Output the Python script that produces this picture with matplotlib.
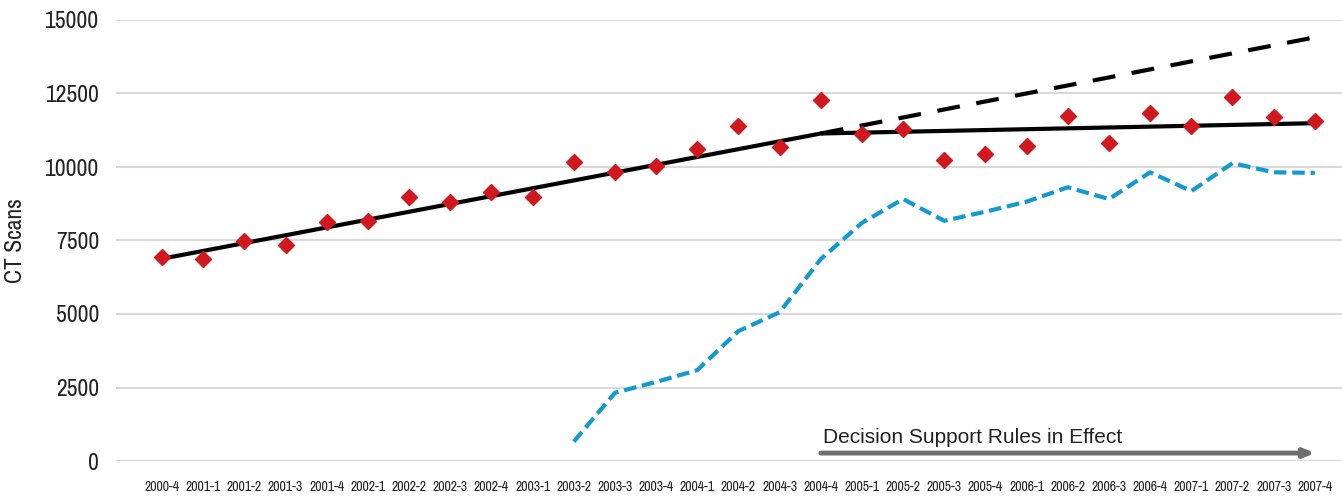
import matplotlib
matplotlib.use("Agg")
import matplotlib.pyplot as plt
from matplotlib import font_manager as fm

quarters = ["2000-4", "2001-1", "2001-2", "2001-3", "2001-4", "2002-1", "2002-2",
            "2002-3", "2002-4", "2003-1", "2003-2", "2003-3", "2003-4", "2004-1",
            "2004-2", "2004-3", "2004-4", "2005-1", "2005-2", "2005-3", "2005-4",
            "2006-1", "2006-2", "2006-3", "2006-4", "2007-1", "2007-2", "2007-3",
            "2007-4"]

# observed CT scans per quarter (red diamonds)
ct_scans = [6950, 6870, 7490, 7360, 8140, 8170, 8990, 8800, 9150, 8970, 10160,
            9830, 10020, 10600, 11400, 10690, 12280, 11120, 11290, 10240, 10430,
            10730, 11720, 10800, 11820, 11400, 12390, 11710, 11580]

# blue dashed series, starts at 2003-2
dss_quarters = quarters[10:]
dss_values = [660, 2320, 2690, 3090, 4420, 5060, 6870, 8100, 8910, 8170, 8480,
              8820, 9310, 8910, 9820, 9180, 10130, 9820, 9800]

# fitted trend (segmented) and projected trend
trend_quarters = ["2000-4", "2004-4", "2007-4"]
trend_values = [6880, 11140, 11490]
proj_quarters = ["2004-4", "2007-4"]
proj_values = [11140, 14410]

yticks = [0, 2500, 5000, 7500, 10000, 12500, 15000]

idx = {q: i for i, q in enumerate(quarters)}


def find_narrow():
    # look for an upright, regular condensed / narrow face (narrow preferred)
    found = []
    for f in fm.fontManager.ttflist:
        name = f.name.lower()
        narrowish = ("narrow" in name or "condensed" in name
                     or str(f.stretch).lower() in ("condensed", "semi-condensed"))
        if narrowish and f.style == "normal":
            w = f.weight if isinstance(f.weight, int) else 400
            found.append((0 if "narrow" in name else 1, abs(w - 400), f.fname))
    if found:
        found.sort()
        return fm.FontProperties(fname=found[0][2]), True
    return fm.FontProperties(family="DejaVu Sans"), False


narrow, is_narrow = find_narrow()


def fp(size):
    p = narrow.copy()
    p.set_size(size)
    return p


fig = plt.figure(figsize=(13.42, 4.96), dpi=100)
ax = fig.add_axes([116 / 1342, 1 - 461 / 496, 1 - 116 / 1342, 441 / 496])

ax.grid(axis="y", color="#d9d9d9", linewidth=1.5)
ax.set_axisbelow(True)
for s in ax.spines.values():
    s.set_visible(False)

ax.plot([idx[q] for q in proj_quarters], proj_values, color="black", lw=3,
        dashes=(5.5, 4), zorder=3)
ax.plot([idx[q] for q in trend_quarters], trend_values, color="black", lw=3,
        zorder=3)
ax.plot([idx[q] for q in dss_quarters], dss_values, color="#1199d3", lw=3,
        dashes=(3, 1.4), zorder=3)
ax.plot(range(len(quarters)), ct_scans, linestyle="none", marker="D",
        markersize=8, color="#d0191e", zorder=4)

# decision support arrow
ax.annotate("", xy=(idx["2007-4"], 270), xytext=(idx["2004-4"], 270),
            arrowprops=dict(arrowstyle="-|>,head_length=0.6,head_width=0.25",
                            color="#6e6e6e", lw=3.5, shrinkA=0, shrinkB=0))
ax.text(idx["2004-4"] + 0.05, 816, "Decision Support Rules in Effect",
        fontsize=15, family="Liberation Sans", color="#222222", va="center")

ax.set_xlim(-1.12, 28.66)
ax.set_ylim(0, 15000)
ax.set_yticks(yticks)
ax.set_xticks(range(len(quarters)))
ax.set_yticklabels([str(v) for v in yticks], color="#222222",
                   fontproperties=fp(17 if is_narrow else 13))
ax.set_xticklabels(quarters, color="#222222",
                   fontproperties=fp(10 if is_narrow else 7.5))
ax.tick_params(axis="both", length=0)
ax.tick_params(axis="x", pad=14)
ax.tick_params(axis="y", pad=12 if is_narrow else 10)
ax.set_ylabel("CT Scans", color="#222222",
              fontproperties=fp(17 if is_narrow else 12), labelpad=14)

fig.savefig("out.png", dpi=100)
